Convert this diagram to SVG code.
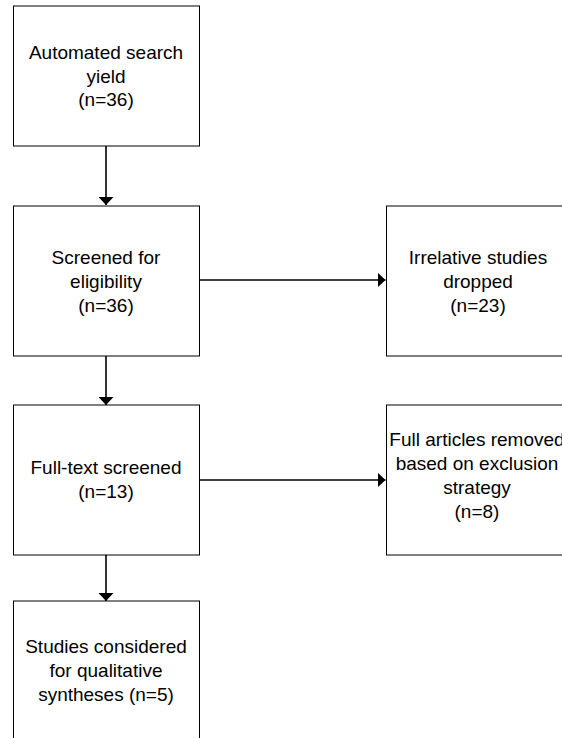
<svg xmlns="http://www.w3.org/2000/svg" width="562" height="738" viewBox="0 0 562 738">
<style>
.box{fill:#fff;stroke:#000;stroke-width:1}
.lbl{font-family:"Liberation Sans",Arial,sans-serif;font-size:19px;fill:#000;text-anchor:middle}
.conn{stroke:#000;stroke-width:1.6;fill:none}
</style>
<defs>
<marker id="ah" markerUnits="userSpaceOnUse" markerWidth="9" markerHeight="15" refX="8" refY="7.5" orient="auto">
<path d="M0,0 L8,7.5 L0,15 Z" fill="#000"/>
</marker>
</defs>
<rect width="562" height="738" fill="#fff"/>
<g id="connectors">
<line class="conn" x1="106" y1="146" x2="106" y2="205" marker-end="url(#ah)"/>
<line class="conn" x1="106" y1="356" x2="106" y2="405" marker-end="url(#ah)"/>
<line class="conn" x1="106" y1="555" x2="106" y2="601" marker-end="url(#ah)"/>
<line class="conn" x1="200" y1="280" x2="385.5" y2="280" marker-end="url(#ah)"/>
<line class="conn" x1="200" y1="480" x2="385.5" y2="480" marker-end="url(#ah)"/>
</g>
<g id="n1">
<rect class="box" x="13.5" y="6" width="186" height="140"/>
<text class="lbl" x="106" y="59">Automated search</text>
<text class="lbl" x="106" y="83">yield</text>
<text class="lbl" x="106" y="106">(n=36)</text>
</g>
<g id="n2">
<rect class="box" x="13.5" y="206" width="186" height="150"/>
<text class="lbl" x="106" y="264">Screened for</text>
<text class="lbl" x="106" y="288">eligibility</text>
<text class="lbl" x="106" y="312">(n=36)</text>
</g>
<g id="n3">
<rect class="box" x="386.5" y="206" width="186" height="150"/>
<text class="lbl" x="478" y="264">Irrelative studies</text>
<text class="lbl" x="478" y="288">dropped</text>
<text class="lbl" x="478" y="312">(n=23)</text>
</g>
<g id="n4">
<rect class="box" x="13.5" y="405" width="186" height="150"/>
<text class="lbl" x="106" y="474">Full-text screened</text>
<text class="lbl" x="106" y="498">(n=13)</text>
</g>
<g id="n5">
<rect class="box" x="386.5" y="405" width="186" height="150"/>
<text class="lbl" x="477" y="446">Full articles removed</text>
<text class="lbl" x="477" y="470">based on exclusion</text>
<text class="lbl" x="477" y="494">strategy</text>
<text class="lbl" x="477" y="518">(n=8)</text>
</g>
<g id="n6">
<rect class="box" x="13.5" y="601" width="186" height="150"/>
<text class="lbl" x="106" y="653">Studies considered</text>
<text class="lbl" x="106" y="677">for qualitative</text>
<text class="lbl" x="106" y="701">syntheses (n=5)</text>
</g>
</svg>
